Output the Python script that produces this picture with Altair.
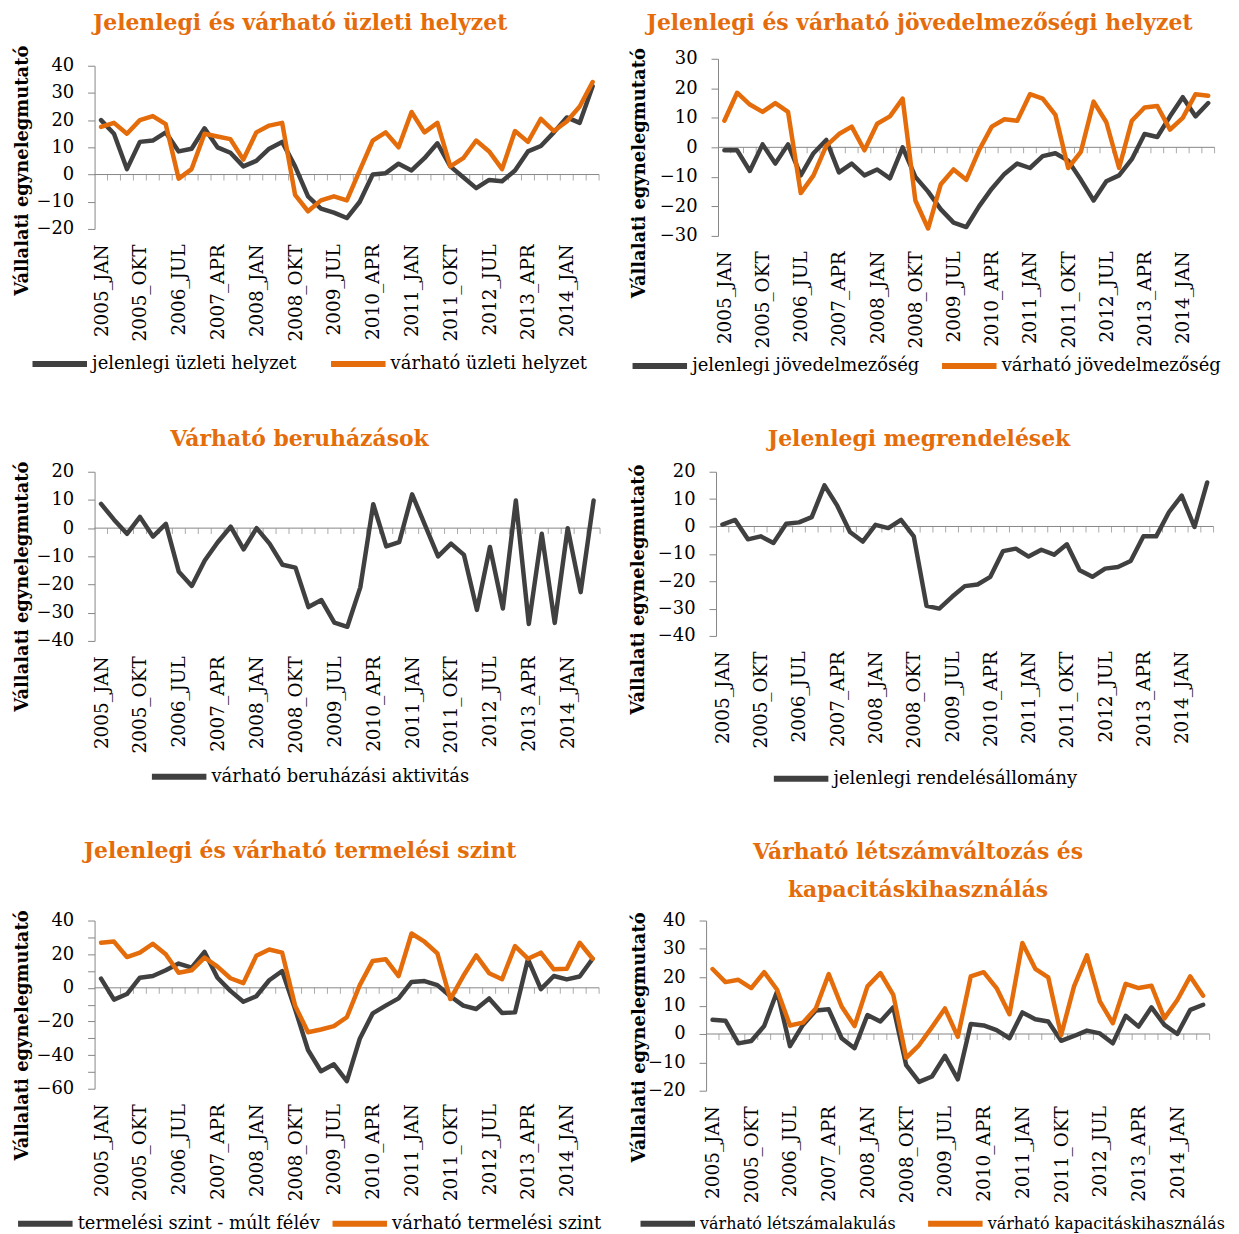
import altair as alt
import pandas as pd

periods = [
    "2005_JAN", "2005_APR", "2005_JUL", "2005_OKT",
    "2006_JAN", "2006_APR", "2006_JUL", "2006_OKT",
    "2007_JAN", "2007_APR", "2007_JUL", "2007_OKT",
    "2008_JAN", "2008_APR", "2008_JUL", "2008_OKT",
    "2009_JAN", "2009_APR", "2009_JUL", "2009_OKT",
    "2010_JAN", "2010_APR", "2010_JUL", "2010_OKT",
    "2011_JAN", "2011_APR", "2011_JUL", "2011_OKT",
    "2012_JAN", "2012_APR", "2012_JUL", "2012_OKT",
    "2013_JAN", "2013_APR", "2013_JUL", "2013_OKT",
    "2014_JAN", "2014_APR", "2014_JUL",
]
shown_labels = [0, 3, 6, 9, 12, 15, 18, 21, 24, 27, 30, 33, 36]

# Panel 1: Jelenlegi és várható üzleti helyzet
p1_names = ["jelenlegi üzleti helyzet", "várható üzleti helyzet"]
p1_dark = [20, 15, 2, 12, 12.5, 15.5, 8.5, 9.5, 17, 10, 8, 3, 5, 9.5, 12, 3, -8, -12.5, -14, -16,
           -10, 0, 0.5, 4, 1.5, 6, 11.5, 3, -1, -5, -2, -2.5, 1.5, 8.5, 10.5, 15.5, 21, 19, 32.5]
p1_orange = [17.5, 19, 15, 20, 21.5, 18.5, -1.5, 2, 15, 14, 13, 5.5, 15.5, 18, 19, -7.5, -13.5, -9.5, -8, -9.5,
             1.5, 12.5, 15.5, 10, 23, 15.5, 19, 3, 6, 12.5, 8.5, 2, 16, 12, 20.5, 16, 19.5, 25, 34]

# Panel 2: Jelenlegi és várható jövedelmezőségi helyzet
p2_names = ["jelenlegi jövedelmezőség", "várható jövedelmezőség"]
p2_dark = [-1, -1, -8, 1, -5.5, 1, -9.5, -2, 2.5, -8.5, -5.5, -9.5, -7.5, -10.5, 0, -10, -15, -21, -25.5, -27,
           -20, -14, -9, -5.5, -7, -3, -2, -4.5, -11, -18, -11.5, -9.5, -4, 4.5, 3.5, 10.5, 17, 10.5, 15]
p2_orange = [9, 18.5, 14.5, 12, 15, 12, -15.5, -9.5, 0.5, 4.5, 7, -1, 8, 10.5, 16.5, -18, -27.5, -12.5, -7.5, -11,
             -1, 7, 9.5, 9, 18, 16.5, 11, -7, -1.5, 15.5, 8.5, -7, 9, 13.5, 14, 6, 10, 18, 17.5]

# Panel 3: Várható beruházások
p3_names = ["várható beruházási aktivitás"]
p3_dark = [8.6, 3, -2, 4, -3, 1.5, -15.5, -20.5, -11.5, -5, 0.5, -7.5, 0, -5.5, -13, -14, -28, -25.5, -33.5, -35,
           -21, 8.5, -6.5, -5, 12, 1, -10, -5.5, -9.5, -29, -6.7, -28.5, 9.8, -34, -2, -33.6, 0, -22.7, 9.8]

# Panel 4: Jelenlegi megrendelések
p4_names = ["jelenlegi rendelésállomány"]
p4_dark = [0.7, 2.4, -4.7, -3.6, -6, 1, 1.5, 3.4, 15, 7.6, -2, -5.5, 0.6, -0.6, 2.4, -3.6, -29, -30, -25.7, -21.8,
           -21.2, -18.4, -9, -8.1, -11, -8.5, -10.3, -6.5, -16, -18.4, -15.4, -14.8, -12.6, -3.6, -3.6, 5.2, 11.3, -0.2, 16.1]

# Panel 5: Jelenlegi és várható termelési szint
p5_names = ["termelési szint - múlt félév", "várható termelési szint"]
p5_dark = [5.5, -7, -3.7, 6, 7, 10.4, 14.4, 12, 21.3, 6, -1.8, -8.3, -5, 4.5, 10, -12.6, -37, -49.6, -45.5, -55.5,
           -30.3, -15.2, -10.6, -6.3, 3.5, 4, 1.6, -5, -10.6, -12.6, -6.3, -15, -14.6, 17, -0.8, 7, 5, 6.7, 17.3]
p5_orange = [26.8, 27.5, 18.3, 20.9, 26.2, 20, 9, 10.4, 18, 12.6, 5.7, 2.8, 19, 22.8, 20.9, -10.6, -26.4, -24.8, -22.8, -17.5,
             1.6, 16, 17, 7, 32.3, 27.4, 20.5, -6.7, 7, 19.3, 8.7, 5.1, 24.8, 17.3, 20.9, 11, 11.4, 26.8, 17.3]

# Panel 6: Várható létszámváltozás és kapacitáskihasználás
p6_names = ["várható létszámalakulás", "várható kapacitáskihasználás"]
p6_dark = [5, 4.7, -3.3, -2.5, 2.8, 15, -4.3, 3.2, 8.3, 8.7, -1.5, -5, 6.7, 4.4, 9.4, -11, -16.9, -15, -7.7, -16,
           3.5, 3, 1.4, -1.5, 7.6, 5.2, 4.4, -2.4, -0.7, 1.2, 0.2, -3.3, 6.4, 2.6, 9.4, 3.2, 0, 8.5, 10.3]
p6_orange = [22.9, 18.3, 19.1, 16.2, 21.8, 15.6, 3, 4, 9, 21.1, 9.7, 2.8, 16.8, 21.5, 13.8, -8.4, -3.9, 2.4, 9, -1,
             20.3, 21.8, 16.2, 7, 32.1, 23, 20, -0.4, 16.8, 27.7, 11.5, 3.8, 17.7, 16.2, 17, 5.5, 12, 20.3, 13.5]

FONT = "DejaVu Serif"
DARK = "#404040"
ORANGE = "#E46C0A"
GRAY = "#868686"
YTITLE = "Vállalati egynelegmutató"

label_js = "[" + ",".join("'" + p + "'" for p in periods) + "]"


def make_df(names, series):
    rows = []
    for name, vals in zip(names, series):
        for i, v in enumerate(vals):
            rows.append({"i": i, "period": periods[i], "series": name, "value": v})
    return pd.DataFrame(rows)


def panel(names, series, ydom, ystep, width, height, title, title_dx, title_offset,
          ytitle_x, ytitle_y, legend_x, legend_y, legend_font=18, legend_pad=30, title_lh=None):
    df = make_df(names, series)
    colors = [DARK, ORANGE][: len(names)]
    xscale = alt.Scale(domain=[-0.5, len(periods) - 0.5], nice=False, zero=False)
    xaxis = alt.Axis(values=shown_labels, labelExpr=label_js + "[datum.value]", labelAngle=-90,
                     ticks=False, domain=False, grid=False, title=None, labelFont=FONT,
                     labelFontSize=18.5, labelColor="black", labelPadding=15, labelOverlap=False,
                     labelFlush=False)
    yscale = alt.Scale(domain=ydom, nice=False, zero=False)
    yaxis = alt.Axis(values=list(range(ydom[0], ydom[1] + 1, ystep)), title=YTITLE, titleFont=FONT,
                     titleFontSize=18, titleFontWeight="bold", titleColor="black", titleX=ytitle_x,
                     titleY=ytitle_y, titleAngle=270, titleAlign="center", titleBaseline="middle",
                     grid=False, domainColor=GRAY, tickColor=GRAY, tickSize=7, labelFont=FONT,
                     labelFontSize=18, labelColor="black", labelPadding=14, labelFlush=False)
    xenc = alt.X("i:Q", scale=xscale, axis=xaxis)
    color = alt.Color("series:N", scale=alt.Scale(domain=names, range=colors),
                      legend=alt.Legend(orient="none", legendX=legend_x, legendY=legend_y,
                                        direction="horizontal", title=None, symbolType="stroke",
                                        symbolSize=3000, symbolStrokeWidth=6, labelFont=FONT,
                                        labelFontSize=legend_font, labelColor="black", labelOffset=2,
                                        labelLimit=0, columnPadding=legend_pad, padding=0))
    zero = alt.Chart(pd.DataFrame({"z": [0]})).mark_rule(color=GRAY, strokeWidth=1).encode(
        y=alt.YDatum(0, scale=yscale, axis=yaxis))
    ticks = alt.Chart(pd.DataFrame({"i": [k + 0.5 for k in range(len(periods))]})).mark_tick(
        orient="vertical", size=6, thickness=1, color=GRAY, yOffset=3).encode(
        x=xenc, y=alt.YDatum(0, scale=yscale, axis=yaxis))
    layers = [zero, ticks]
    for name in names:
        layers.append(alt.Chart(df).transform_filter(alt.datum.series == name).mark_line(
            strokeWidth=4.5, strokeJoin="round", strokeCap="round").encode(
            x=xenc, y=alt.Y("value:Q", scale=yscale, axis=yaxis), color=color))
    tparams = dict(text=title, font=FONT, fontSize=22, fontWeight="bold", color=ORANGE,
                   anchor="middle", frame="group", dx=title_dx, offset=title_offset)
    if title_lh:
        tparams["lineHeight"] = title_lh
    return alt.layer(*layers).properties(width=width, height=height, title=alt.TitleParams(**tparams))


c1 = panel(p1_names, [p1_dark, p1_orange], [-20, 40], 10, 507, 164,
           "Jelenlegi és várható üzleti helyzet", -47, 10, -72.5, 105, -65.5, 269, legend_pad=22)
c2 = panel(p2_names, [p2_dark, p2_orange], [-30, 30], 10, 499, 178,
           "Jelenlegi és várható jövedelmezőségi helyzet", -47, 13, -79, 114.5, -89, 278, legend_pad=10)
c3 = panel(p3_names, [p3_dark], [-40, 20], 10, 508, 170,
           "Várható beruházások", -48, 10, -72.5, 115, 54.5, 276)
c4 = panel(p4_names, [p4_dark], [-40, 20], 10, 500, 165,
           "Jelenlegi megrendelések", -46, 12, -78, 118, 55, 278)
c5 = panel(p5_names, [p5_dark, p5_orange], [-60, 40], 10, 507, 169,
           "Jelenlegi és várható termelési szint", -47, 47, -72.5, 115, -80, 274, legend_pad=0)
c6 = panel(p6_names, [p6_dark, p6_orange], [-20, 40], 10, 506, 171,
           ["Várható létszámváltozás és", "kapacitáskihasználás"], -40, 10, -67, 117, -69, 274,
           legend_font=16, legend_pad=20, title_lh=38)


def indep(ch):
    return ch.resolve_scale(x="independent", y="independent", color="independent").resolve_legend(
        color="independent").resolve_axis(x="independent", y="independent")


# with flush bounds a nested concat counts as zero height, so the spacing
# between rows is the distance between the tops of the rows
row1 = indep(alt.hconcat(c1, c2, spacing=119.5, center=True, bounds="flush"))
row2 = indep(alt.hconcat(c3, c4, spacing=116.5, bounds="flush"))
row3 = indep(alt.hconcat(c5, c6, spacing=107.5, bounds="flush"))
bottom = indep(alt.vconcat(row2, row3, spacing=451, bounds="flush"))
chart = indep(alt.vconcat(row1, bottom, spacing=415, bounds="flush")).configure_view(
    strokeWidth=0).properties(padding={"left": 5, "top": 0, "right": 5, "bottom": 0},
                              background="white")

chart.save("out.html", embed_options={"renderer": "svg", "actions": False})
